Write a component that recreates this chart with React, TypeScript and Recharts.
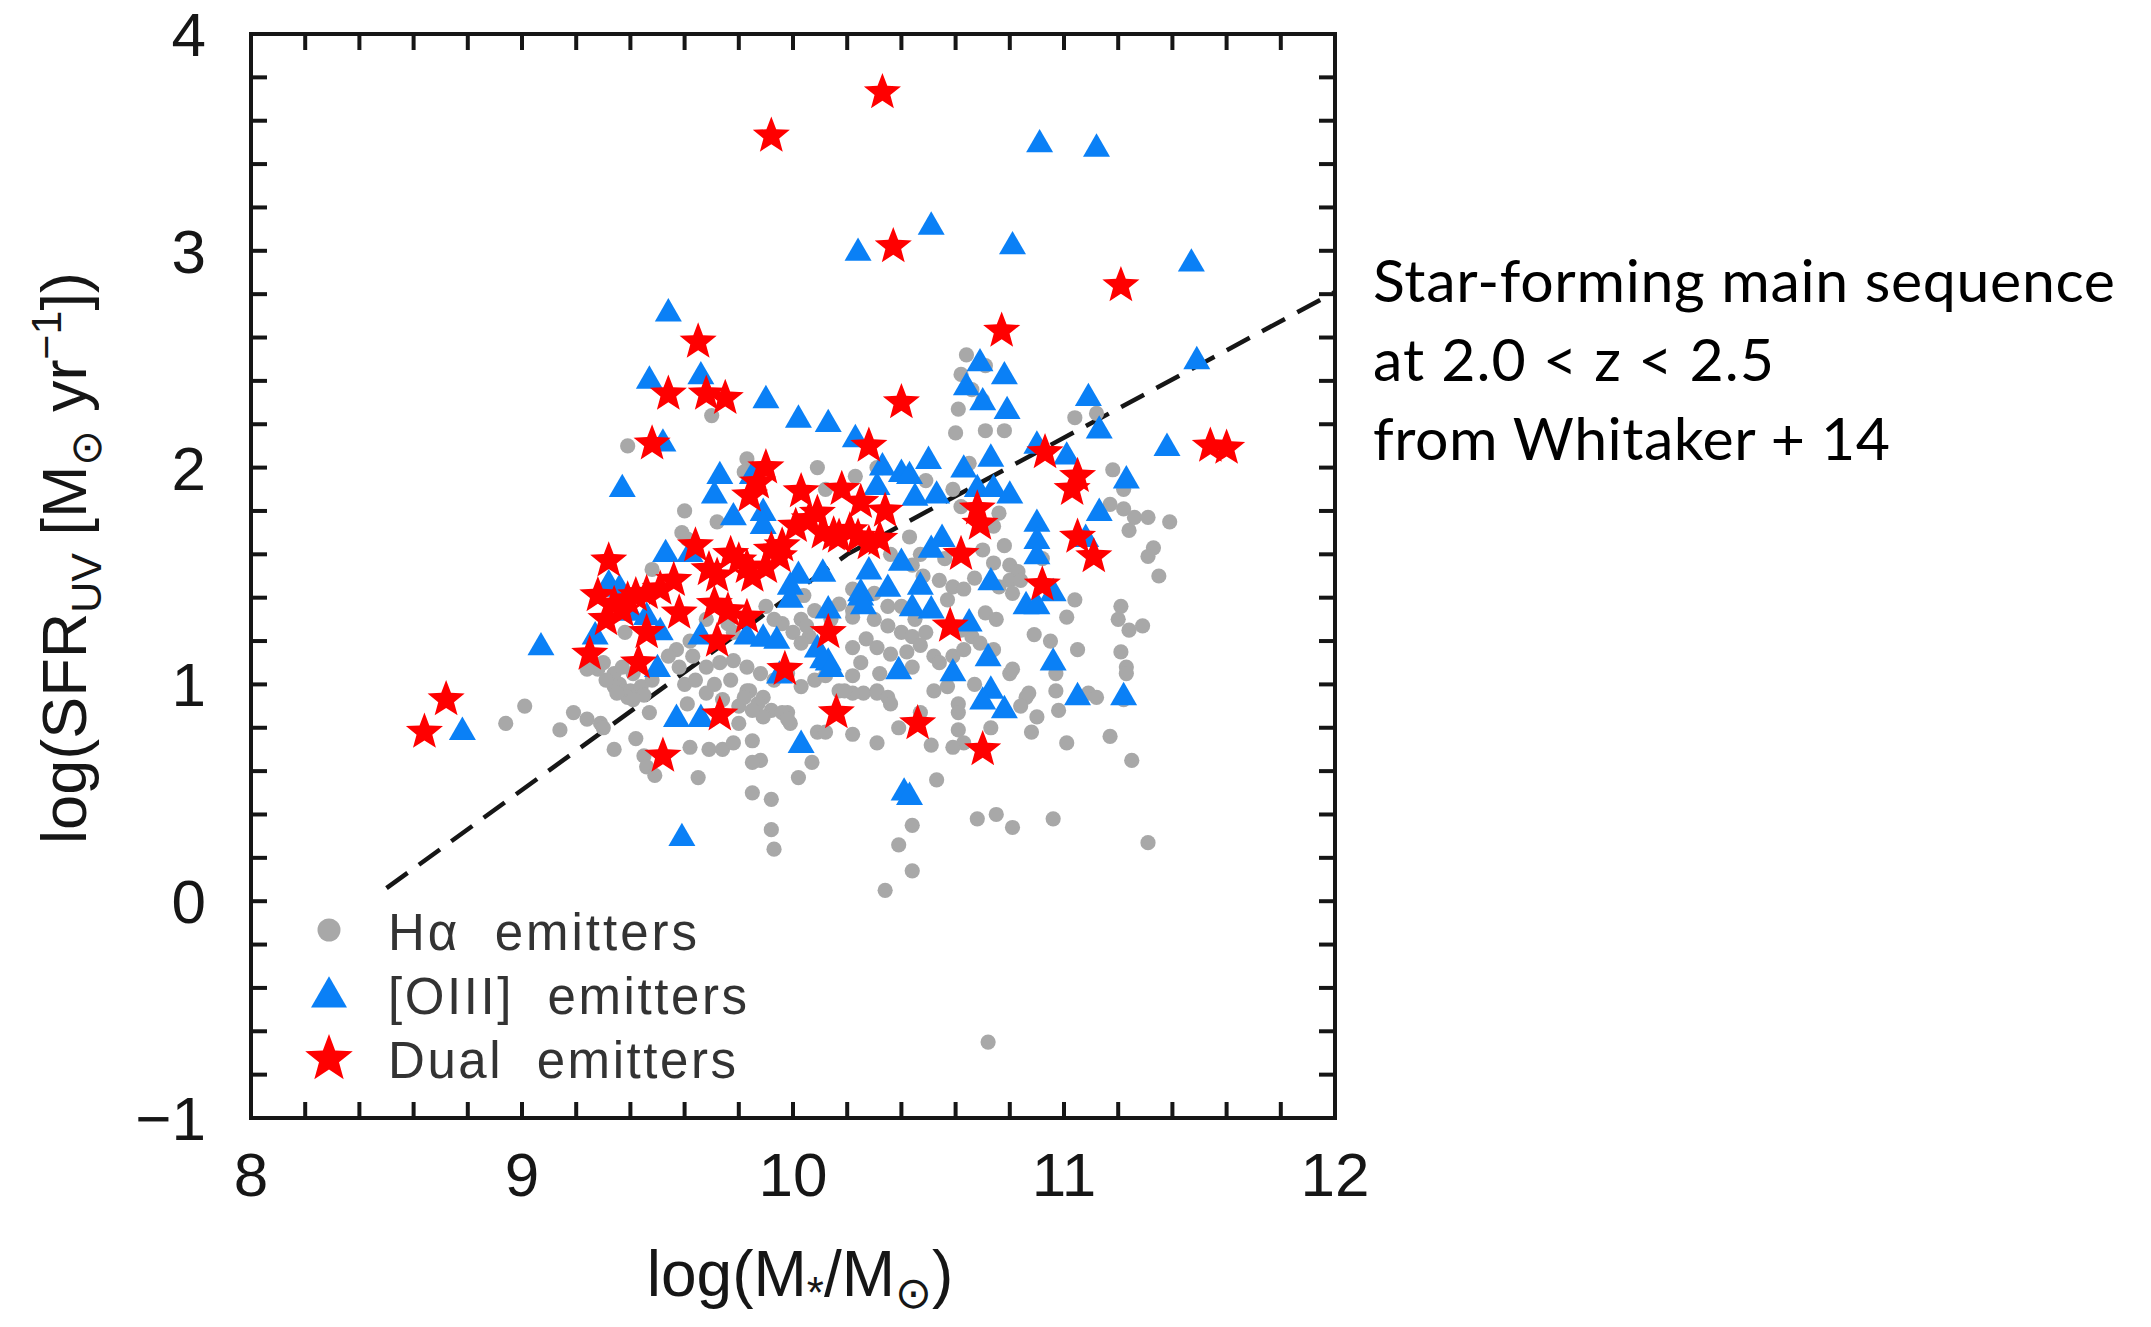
import React from 'react';
import { ScatterChart, Scatter, XAxis, YAxis } from 'recharts';

// [log(M*/Msun), log(SFR_UV)]
const haEmitters: [number, number][] = [
  [9.70, 2.24], [9.39, 2.10], [9.83, 2.04], [10.09, 2.00], [10.23, 1.96], [10.31, 2.00], [9.82, 1.98],
  [9.60, 1.80], [9.72, 1.75], [9.59, 1.70], [9.61, 1.67], [9.48, 1.53], [10.12, 1.90], [10.22, 1.44], [10.30, 1.42],
  [10.04, 1.41], [10.08, 1.34], [10.03, 1.30], [10.06, 1.22], [9.38, 1.24], [9.76, 1.28], [9.78, 1.24],
  [10.22, 1.31], [10.30, 1.30], [10.22, 1.17],
  [9.30, 1.10], [9.34, 1.05], [9.36, 1.00], [9.40, 0.97], [9.44, 0.99], [9.48, 1.02], [9.34, 0.99], [9.41, 1.05],
  [9.31, 1.02], [9.39, 0.94], [9.28, 1.07], [9.45, 0.95], [9.37, 1.08], [9.35, 0.96], [9.41, 0.93], [9.24, 1.07],
  [9.58, 1.08], [9.63, 1.13], [9.68, 1.08], [9.73, 1.10], [9.78, 1.11], [9.83, 1.08], [9.88, 1.05], [9.93, 1.02],
  [9.60, 1.00], [9.64, 1.02], [9.71, 1.00], [9.77, 1.02], [9.83, 0.97], [9.89, 0.94],
  [9.61, 0.91], [9.68, 0.96], [9.74, 0.93], [9.80, 0.90], [9.87, 0.91], [9.92, 0.88], [9.89, 0.85], [9.98, 0.87],
  [9.99, 0.82], [10.03, 0.99], [10.08, 1.02], [10.12, 1.04], [10.17, 0.97], [10.22, 1.04], [10.26, 0.96], [10.31, 0.97],
  [9.01, 0.90], [8.94, 0.82], [9.14, 0.79], [9.19, 0.87], [9.24, 0.84], [9.29, 0.82], [9.30, 0.80], [9.47, 0.87],
  [9.34, 0.70], [9.42, 0.75], [9.45, 0.67], [9.46, 0.62], [9.49, 0.58],
  [9.62, 0.71], [9.69, 0.70], [9.74, 0.70], [9.78, 0.73], [9.85, 0.74], [9.88, 0.65], [9.85, 0.64],
  [9.65, 0.57], [9.85, 0.50], [9.92, 0.47], [9.92, 0.33], [9.93, 0.24], [10.02, 0.57], [10.07, 0.64],
  [10.09, 0.78], [10.12, 0.78], [10.22, 0.77],
  [10.64, 2.52], [10.62, 2.43], [10.71, 2.47], [10.66, 2.36], [10.70, 2.31],
  [10.61, 2.27], [10.60, 2.16], [10.71, 2.17], [10.78, 2.17], [11.04, 2.23], [11.12, 2.25], [10.33, 2.00],
  [10.49, 1.94], [10.65, 2.02], [11.18, 1.99], [11.22, 1.90], [11.17, 1.83], [11.22, 1.81], [11.26, 1.77],
  [11.31, 1.77], [11.24, 1.71], [11.39, 1.75], [11.33, 1.63], [11.31, 1.59], [11.35, 1.50],
  [10.59, 1.90], [10.62, 1.82], [10.76, 1.79], [10.74, 1.73], [10.78, 1.64], [10.43, 1.68], [10.47, 1.60],
  [10.70, 1.62], [10.74, 1.56], [10.80, 1.55], [10.83, 1.52], [10.80, 1.48], [10.76, 1.45], [10.81, 1.42],
  [10.84, 1.48], [10.54, 1.48], [10.59, 1.45], [10.63, 1.44], [10.67, 1.49], [10.22, 1.34],
  [10.35, 1.36], [10.40, 1.36], [10.57, 1.39], [11.04, 1.39], [11.01, 1.31], [11.21, 1.36], [11.20, 1.30],
  [11.29, 1.27], [10.89, 1.23], [10.71, 1.33], [10.75, 1.30],
  [10.35, 1.27], [10.40, 1.24], [10.44, 1.22], [10.49, 1.24],
  [10.31, 1.17], [10.36, 1.14], [10.52, 1.13], [10.54, 1.10], [10.59, 1.13], [10.63, 1.16], [10.74, 1.16],
  [9.96, 1.28], [10.00, 1.24], [10.03, 1.19], [10.05, 1.27],
  [9.98, 1.05], [9.96, 0.87], [9.98, 0.84], [9.84, 0.97], [9.82, 0.94], [9.85, 0.88], [9.80, 0.82],
  [10.22, 0.96], [10.19, 0.97], [10.32, 1.05], [10.31, 0.96], [10.35, 0.94], [10.36, 0.91], [10.44, 1.08],
  [10.52, 0.97], [10.57, 0.99], [10.67, 1.00],
  [10.80, 1.05], [10.81, 1.07], [10.86, 0.94], [10.87, 0.96], [10.84, 0.90], [10.97, 1.05], [10.97, 0.97],
  [11.09, 0.96], [11.12, 0.94], [11.21, 1.15], [11.23, 1.08], [11.23, 1.05], [11.24, 1.25], [11.22, 0.93],
  [10.61, 0.91], [10.61, 0.87], [10.61, 0.79], [10.63, 0.73], [10.73, 0.80], [10.88, 0.78], [11.01, 0.73],
  [11.17, 0.76], [11.25, 0.65],
  [10.39, 0.80], [10.47, 0.87], [10.51, 0.72], [10.53, 0.56], [10.31, 0.73], [10.59, 0.71],
  [10.44, 0.35], [10.39, 0.26], [10.44, 0.14], [10.34, 0.05], [10.68, 0.38], [10.75, 0.40], [10.81, 0.34],
  [10.96, 0.38], [11.31, 0.27],
  [10.45, 1.30], [10.47, 1.18], [10.42, 1.15], [10.66, 1.22], [10.69, 1.19], [10.62, 1.25], [10.27, 1.21],
  [10.25, 1.10], [10.14, 1.30], [10.17, 1.37], [9.93, 1.30], [9.90, 1.36], [9.57, 1.16], [9.62, 1.20],
  [9.54, 1.13], [9.68, 1.30], [10.48, 1.50], [10.44, 1.55], [10.36, 1.60], [10.56, 1.58], [10.92, 1.58],
  [10.95, 1.20], [11.05, 1.16], [10.98, 0.88], [10.90, 0.85],
  [10.72, -0.65],
];

const oiiiEmitters: [number, number][] = [
  [10.91, 3.49], [11.12, 3.47], [10.51, 3.11], [10.24, 2.99], [10.81, 3.02], [11.47, 2.94], [9.54, 2.71], [11.49, 2.49],
  [9.47, 2.40], [9.66, 2.42], [10.69, 2.48], [10.64, 2.37], [10.78, 2.42], [10.70, 2.30], [10.79, 2.26], [11.09, 2.32],
  [9.90, 2.31], [10.02, 2.22], [10.13, 2.20], [10.23, 2.13], [9.52, 2.11], [11.38, 2.09], [11.13, 2.17], [11.01, 2.05],
  [10.90, 2.10], [11.23, 1.94], [10.80, 1.87], [11.13, 1.79],
  [9.37, 1.90], [9.73, 1.96], [9.71, 1.87], [9.85, 1.96], [9.78, 1.77], [9.89, 1.79], [9.89, 1.73], [10.31, 1.91],
  [10.33, 2.00], [10.40, 1.97], [10.43, 1.96], [10.50, 2.03], [10.63, 1.99], [10.73, 2.04], [10.45, 1.86],
  [10.53, 1.87], [10.68, 1.90], [10.74, 1.90],
  [10.90, 1.74], [10.90, 1.66], [10.90, 1.59], [11.08, 1.67],
  [9.53, 1.60], [9.62, 1.60], [10.02, 1.50], [10.11, 1.51], [10.28, 1.52], [9.99, 1.45], [9.99, 1.39], [10.25, 1.40],
  [10.13, 1.34], [9.32, 1.46], [9.36, 1.44], [9.40, 1.33], [9.46, 1.31], [9.51, 1.24], [9.27, 1.22], [9.66, 1.22],
  [9.83, 1.22], [9.89, 1.21], [9.94, 1.20], [10.09, 1.16], [10.13, 1.10], [9.07, 1.17], [9.50, 1.07], [9.95, 1.04],
  [9.57, 0.84], [9.66, 0.84], [10.03, 0.72], [8.78, 0.78], [9.59, 0.29],
  [10.40, 1.56], [10.51, 1.62], [10.55, 1.67], [10.25, 1.42], [10.26, 1.36], [10.35, 1.44], [10.47, 1.45],
  [10.44, 1.35], [10.51, 1.34], [10.73, 1.47], [10.96, 1.42], [10.86, 1.36], [10.90, 1.36], [10.65, 1.28],
  [10.11, 1.11], [10.14, 1.07], [10.39, 1.06], [10.59, 1.05], [10.72, 1.12], [10.96, 1.10], [10.73, 0.97],
  [10.70, 0.92], [10.78, 0.88], [11.05, 0.94], [11.22, 0.94], [10.41, 0.50], [10.43, 0.48],
];

const dualEmitters: [number, number][] = [
  [10.33, 3.73], [9.92, 3.53], [10.37, 3.02], [11.21, 2.84], [10.77, 2.63], [9.65, 2.58], [9.54, 2.34], [9.68, 2.34],
  [9.75, 2.32], [9.48, 2.11], [10.40, 2.30], [10.28, 2.10], [10.93, 2.07], [11.54, 2.10], [11.60, 2.09], [11.05, 1.96],
  [11.03, 1.90], [10.68, 1.81], [10.69, 1.74], [11.05, 1.68], [11.11, 1.59], [10.62, 1.60], [10.92, 1.46],
  [10.58, 1.27], [10.46, 0.82], [10.70, 0.70],
  [9.90, 2.00], [9.87, 1.93], [9.84, 1.87], [10.03, 1.89], [10.18, 1.90], [10.25, 1.84], [10.34, 1.80], [10.06, 1.76],
  [10.09, 1.79], [10.01, 1.73], [10.11, 1.70], [10.15, 1.69], [10.24, 1.68], [10.32, 1.67], [10.28, 1.65],
  [10.17, 1.68], [10.21, 1.71], [9.96, 1.64], [9.64, 1.64], [9.32, 1.57], [9.77, 1.60], [9.80, 1.57], [9.83, 1.54],
  [9.92, 1.62], [9.95, 1.59], [9.69, 1.53], [9.72, 1.50], [9.85, 1.50], [9.90, 1.54], [9.56, 1.48], [9.51, 1.44],
  [9.46, 1.42], [9.42, 1.41], [9.39, 1.39], [9.34, 1.37], [9.28, 1.41], [9.31, 1.30], [9.37, 1.34], [9.58, 1.33],
  [9.71, 1.37], [9.76, 1.34], [9.83, 1.31], [9.46, 1.24], [9.72, 1.20], [9.25, 1.14], [9.43, 1.10], [10.13, 1.24],
  [9.97, 1.07], [9.73, 0.86], [10.16, 0.87], [8.72, 0.93], [8.64, 0.78], [9.52, 0.67],
];

// Whitaker+14 main sequence at 2.0 < z < 2.5 (dashed line)
const mainSequence: [number, number][] = [[8.5, 0.06], [10.2, 1.6], [12, 2.81]];

const xTicks = [8, 8.2, 8.4, 8.6, 8.8, 9, 9.2, 9.4, 9.6, 9.8, 10, 10.2, 10.4, 10.6, 10.8, 11, 11.2, 11.4, 11.6, 11.8, 12];
const yTicks = [-1, -0.8, -0.6, -0.4, -0.2, 0, 0.2, 0.4, 0.6, 0.8, 1, 1.2, 1.4, 1.6, 1.8, 2, 2.2, 2.4, 2.6, 2.8, 3, 3.2, 3.4, 3.6, 3.8, 4];
const xLabels = [8, 9, 10, 11, 12];
const yLabels = [-1, 0, 1, 2, 3, 4];
const legendLabels = ['H\u03b1  emitters', '[OIII]  emitters', 'Dual  emitters'];
const noteLines = ['Star-forming main sequence', 'at 2.0 < z < 2.5', 'from Whitaker + 14'];

const W = 2151;
const H = 1327;
const PLOT = { left: 251, top: 34, right: 1335, bottom: 1118 };
const INK = '#161616';
const GREY = '#a8a8a8';
const BLUE = '#0a80f6';
const RED = '#ff0000';
const AXIS_FONT = '"Liberation Sans", Arial, sans-serif';
const NOTE_FONT = 'Lato, "Open Sans", sans-serif';
const TICK_LEN = 16;

const toPts = (arr: [number, number][]) => arr.map(([x, y]) => ({ x, y }));
const fmt = (v: number) => (v < 0 ? '\u2212' + Math.abs(v) : String(v));

function starPath(cx: number, cy: number, R: number, r: number) {
  let d = '';
  for (let i = 0; i < 10; i++) {
    const rad = i % 2 === 0 ? R : r;
    const a = -Math.PI / 2 + (i * Math.PI) / 5;
    d += (i ? 'L' : 'M') + (cx + rad * Math.cos(a)).toFixed(2) + ',' + (cy + rad * Math.sin(a)).toFixed(2);
  }
  return d + 'Z';
}

function triPath(cx: number, cy: number, half: number) {
  const h = half * 1.732;
  return `M${cx},${cy - (h * 2) / 3}L${cx + half},${cy + h / 3}L${cx - half},${cy + h / 3}Z`;
}

const Dot = (p: any) => <circle cx={p.cx} cy={p.cy} r={7.6} fill={GREY} />;
const Tri = (p: any) => <path d={triPath(p.cx, p.cy, 13.5)} fill={BLUE} />;
const Star = (p: any) => <path d={starPath(p.cx, p.cy, 19.5, 8.3)} fill={RED} />;

const BottomTick = (p: any) => (
  <g>
    <line x1={p.x} y1={p.y} x2={p.x} y2={p.y - TICK_LEN} stroke={INK} strokeWidth={4} />
    {xLabels.includes(p.payload.value) && (
      <text x={p.x} y={p.y + 78} textAnchor="middle" fontSize={62} fontFamily={AXIS_FONT} fill={INK}>
        {fmt(p.payload.value)}
      </text>
    )}
  </g>
);
const TopTick = (p: any) => (
  <line x1={p.x} y1={p.y} x2={p.x} y2={p.y + TICK_LEN} stroke={INK} strokeWidth={4} />
);
const LeftTick = (p: any) => (
  <g>
    <line x1={p.x} y1={p.y} x2={p.x + TICK_LEN} y2={p.y} stroke={INK} strokeWidth={4} />
    {yLabels.includes(p.payload.value) && (
      <text x={p.x - 45} y={p.y + 22} textAnchor="end" fontSize={62} fontFamily={AXIS_FONT} fill={INK}>
        {fmt(p.payload.value)}
      </text>
    )}
  </g>
);
const RightTick = (p: any) => (
  <line x1={p.x} y1={p.y} x2={p.x - TICK_LEN} y2={p.y} stroke={INK} strokeWidth={4} />
);

const XTitle = () => (
  <text x={(PLOT.left + PLOT.right) / 2 + 7} y={1296} textAnchor="middle" fontSize={64} fontFamily={AXIS_FONT} fill={INK}>
    log(M<tspan dy={12} fontSize={44}>*</tspan>
    <tspan dy={-12}>/M</tspan>
    <tspan dy={12} fontSize={44}>{'\u2299'}</tspan>
    <tspan dy={-12}>)</tspan>
  </text>
);

const YTitle = () => (
  <text x={86} y={558} transform="rotate(-90, 86, 558)" textAnchor="middle" fontSize={63} fontFamily={AXIS_FONT} fill={INK}>
    log(SFR<tspan dy={15} fontSize={43}>UV</tspan>
    <tspan dy={-15}> [M</tspan>
    <tspan dy={15} fontSize={43}>{'\u2299'}</tspan>
    <tspan dy={-15}> yr</tspan>
    <tspan dy={-25} fontSize={43}>{'\u22121'}</tspan>
    <tspan dy={25}>])</tspan>
  </text>
);

const frame = { stroke: INK, strokeWidth: 4, strokeLinecap: 'square' as const };
const legendWidths = [309, 359, 348];
const noteWidths = [742, 401, 517];

export default function App() {
  return (
    <div style={{ position: 'absolute', left: 0, top: 0, width: W, height: H, background: '#fff' }}>
      <ScatterChart
        width={W}
        height={H}
        margin={{ top: PLOT.top - 20, right: W - PLOT.right - 20, bottom: H - PLOT.bottom - 60, left: PLOT.left - 60 }}
      >
        <XAxis type="number" dataKey="x" domain={[8, 12]} allowDataOverflow ticks={xTicks} interval={0}
          height={60} tickSize={0} tickMargin={0} tickLine={false} axisLine={frame} tick={BottomTick} label={XTitle} />
        <XAxis xAxisId="top" orientation="top" type="number" dataKey="x" domain={[8, 12]} allowDataOverflow
          ticks={xTicks} interval={0} height={20} tickSize={0} tickMargin={0} tickLine={false} axisLine={frame} tick={TopTick} />
        <YAxis type="number" dataKey="y" domain={[-1, 4]} allowDataOverflow ticks={yTicks} interval={0}
          width={60} tickSize={0} tickMargin={0} tickLine={false} axisLine={frame} tick={LeftTick} label={YTitle} />
        <YAxis yAxisId="right" orientation="right" type="number" dataKey="y" domain={[-1, 4]} allowDataOverflow
          ticks={yTicks} interval={0} width={20} tickSize={0} tickMargin={0} tickLine={false} axisLine={frame} tick={RightTick} />
        <Scatter xAxisId="top" yAxisId="right" data={toPts(mainSequence)} isAnimationActive={false}
          line={{ stroke: INK, strokeWidth: 4.5, strokeDasharray: '26 14', fill: 'none' }} shape={() => <g />} />
        <Scatter data={toPts(haEmitters)} shape={Dot} isAnimationActive={false} />
        <Scatter data={toPts(oiiiEmitters)} shape={Tri} isAnimationActive={false} />
        <Scatter data={toPts(dualEmitters)} shape={Star} isAnimationActive={false} />
      </ScatterChart>
      <svg width={W} height={H} style={{ position: 'absolute', left: 0, top: 0, pointerEvents: 'none' }}>
        <circle cx={329} cy={930} r={11.5} fill={GREY} />
        <path d={triPath(329, 997, 18)} fill={BLUE} />
        <path d={starPath(329, 1059, 25, 10.5)} fill={RED} />
        {legendLabels.map((t, i) => (
          <text key={t} x={388} y={950 + i * 64} fontSize={51} fontFamily={AXIS_FONT} fill="#333"
            textLength={legendWidths[i]} lengthAdjust="spacing" style={{ whiteSpace: 'pre' }}>
            {t}
          </text>
        ))}
        {noteLines.map((t, i) => (
          <text key={t} x={1373} y={302 + i * 79} fontSize={59} fontFamily={NOTE_FONT} fill="#000"
            textLength={noteWidths[i]} lengthAdjust="spacing">
            {t}
          </text>
        ))}
      </svg>
    </div>
  );
}
